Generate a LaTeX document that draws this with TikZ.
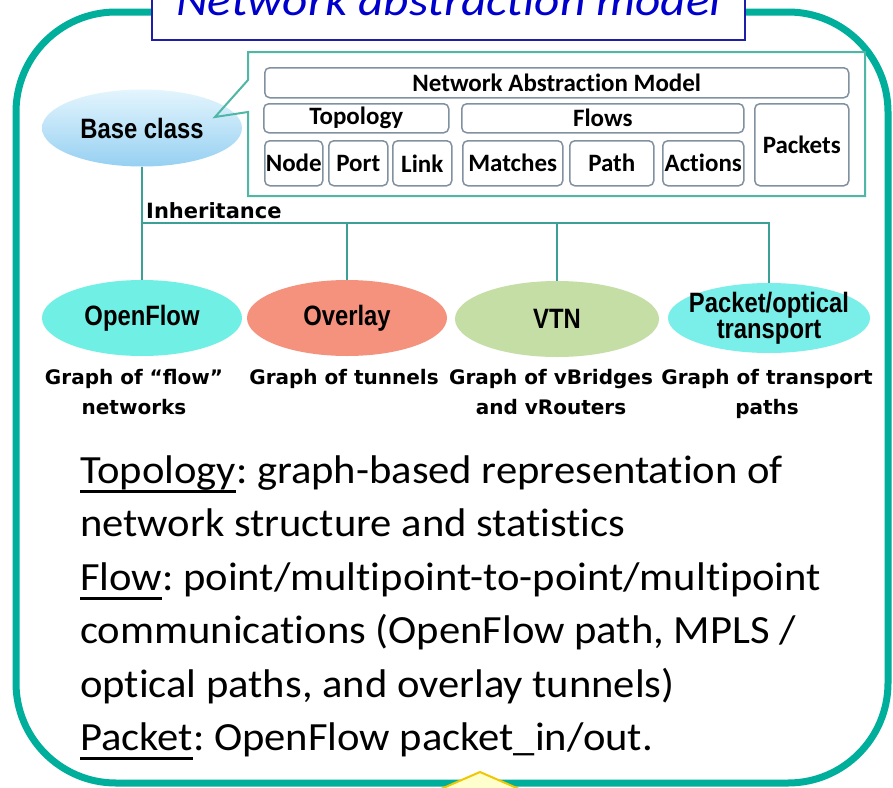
\documentclass[tikz,border=0pt]{standalone}
\usepackage{fontspec}
\usetikzlibrary{shapes.geometric}

\newfontfamily\bodyfont[FakeStretch=1.065,Ligatures=NoCommon]{Carlito}
\newfontfamily\cellfont[Ligatures=NoCommon]{Carlito}
\newfontfamily\titlefont[FakeStretch=1.12,Ligatures=NoCommon]{Carlito}
\newfontfamily\ellfont[FakeStretch=0.85]{Liberation Sans}
\newfontfamily\captfont{DejaVu Sans}

\definecolor{frameteal}{RGB}{0,175,155}
\definecolor{groupteal}{RGB}{80,182,166}
\definecolor{treeteal}{RGB}{60,160,150}
\definecolor{cellgray}{RGB}{130,145,160}
\definecolor{titleblue}{RGB}{30,30,170}
\definecolor{titletext}{RGB}{0,0,205}
\definecolor{basetop}{RGB}{228,245,253}
\definecolor{basebot}{RGB}{150,208,242}
\definecolor{ofcyan}{RGB}{112,240,228}
\definecolor{ovsalmon}{RGB}{245,146,126}
\definecolor{vtngreen}{RGB}{197,222,165}
\definecolor{pocyan}{RGB}{122,238,232}
\definecolor{tipfill}{RGB}{255,255,206}
\definecolor{tipgold}{RGB}{240,200,0}

\newcommand{\undl}[1]{\setbox0\hbox{#1}\rlap{\rule[-10pt]{\wd0}{3pt}}#1}
\frenchspacing

\begin{document}
\begin{tikzpicture}[x=1pt, y=-1pt,
    frame/.style={draw=frameteal, line width=7pt, rounded corners=100pt},
    cell/.style={draw=cellgray, fill=white, line width=1.5pt, rounded corners=5pt,
      inner sep=0pt, anchor=north west, font=\cellfont\bfseries\fontsize{25}{25}\selectfont},
    blob/.style={ellipse, inner sep=0pt, minimum width=200pt, minimum height=76pt},
    blobtext/.style={font=\ellfont\bfseries\fontsize{28}{28}\selectfont},
    capt/.style={font=\captfont\bfseries\fontsize{20}{30}\selectfont, align=center, inner sep=0pt},
    tree/.style={draw=treeteal, line width=2pt},
    body/.style={font=\bodyfont\fontsize{40}{53}\selectfont, inner sep=0pt, anchor=base west}]

    \fill[white] (0,0) rectangle (893,787);
    \useasboundingbox (0,0) rectangle (893,787);
    \clip (0,0) rectangle (893,787);

    % outer frame
    \draw[frame] (16,12) rectangle (888,783);

    % title
    \node[draw=titleblue, line width=2pt, fill=white, minimum width=593pt, minimum height=78pt,
      text height=30pt, text depth=0pt, inner sep=0pt, anchor=south, text=titletext,
      font=\titlefont\itshape\fontsize{44}{44}\selectfont] (title) at (448.5,41) {Network abstraction model};

    % base class and the callout
    \node[blob, top color=basetop, bottom color=basebot, minimum height=77pt,
      label={[blobtext]center:Base class}] (base) at (142,128) {};
    \draw[groupteal, line width=2pt] (248,52) -- (865,52) -- (865,196) -- (248,196)
      -- (248,112) -- (215,117) -- (248,80) -- cycle;

    % model boxes
    \node[cell, minimum width=584pt, minimum height=30pt] (nam) at (264,67) {Network Abstraction Model};
    \node[cell, minimum width=185pt, minimum height=29pt] (topo) at (263,103) {Topology};
    \node[cell, minimum width=282pt, minimum height=29pt] (flows) at (461,103) {Flows};
    \node[cell, minimum width=94pt, minimum height=82pt] (packets) at (754,103) {Packets};
    \node[cell, minimum width=58pt, minimum height=45pt] (nodebox) at (264,140) {Node};
    \node[cell, minimum width=59pt, minimum height=45pt] (port) at (328,140) {Port};
    \node[cell, minimum width=59pt, minimum height=45pt] (link) at (392,140) {Link};
    \node[cell, minimum width=100pt, minimum height=45pt] (matches) at (462,140) {Matches};
    \node[cell, minimum width=84pt, minimum height=45pt] (path) at (569,140) {Path};
    \node[cell, minimum width=81pt, minimum height=45pt] (actions) at (662,140) {Actions};

    % derived classes
    \node[blob, fill=ofcyan, label={[blobtext]center:OpenFlow}] (openflow) at (142,318) {};
    \node[blob, fill=ovsalmon, label={[blobtext]center:Overlay}] (overlay) at (347,318) {};
    \node[blob, fill=vtngreen, minimum width=204pt, label={[blobtext]center:VTN}] (vtn) at (557,319) {};
    \node[blob, fill=pocyan, minimum width=202pt, minimum height=70pt,
      label={[blobtext, align=center, font=\ellfont\bfseries\fontsize{28}{26}\selectfont]center:{Packet/optical\\transport}}] (packet) at (769,318) {};

    % inheritance lines
    \coordinate (bus) at (142,223);
    \draw[tree] (base.south) -- (openflow.north);
    \draw[tree] (bus) -- (bus -| packet.north) -- (packet.north);
    \draw[tree] (bus -| overlay.north) -- (overlay.north);
    \draw[tree] (bus -| vtn.north) -- (vtn.north);
    \node[capt, anchor=base west, font=\captfont\bfseries\fontsize{21}{21}\selectfont] (inh) at (146,218) {Inheritance};

    % captions
    \node[capt, anchor=north] (ofcapt) at (134,369.5) {Graph of “flow”\\networks};
    \node[capt, anchor=north] (ovcapt) at (344,369.5) {Graph of tunnels};
    \node[capt, anchor=north] (vtncapt) at (551,369.5) {Graph of vBridges\\and vRouters};
    \node[capt, anchor=north] (pocapt) at (767,369.5) {Graph of transport\\paths};

    % explanation
    \node[body] (line1) at (80,483) {\undl{Topology}: graph-based representation of};
    \node[body] (line2) at (80,536.5) {network structure and statistics};
    \node[body] (line3) at (80,590) {\undl{Flow}: point/multipoint-to-point/multipoint};
    \node[body] (line4) at (80,643) {communications (OpenFlow path, MPLS /};
    \node[body] (line5) at (80,697) {optical paths, and overlay tunnels)};
    \node[body] (line6) at (80,750) {\undl{Packet}: OpenFlow packet\_in/out.};

    % tip of the shape below
    \filldraw[fill=tipfill, draw=tipgold, line width=2pt] (434,792) -- (480,772) -- (526,792) -- cycle;
\end{tikzpicture}
\end{document}
